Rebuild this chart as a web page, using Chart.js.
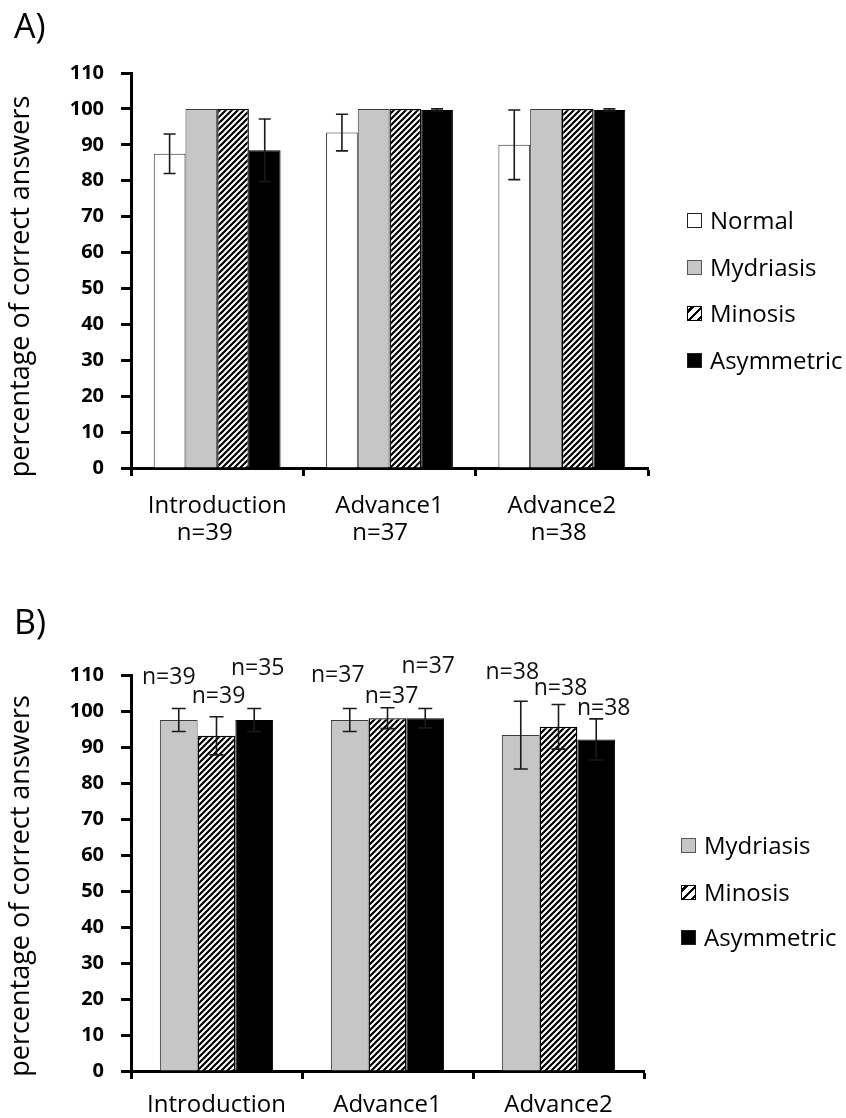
<!DOCTYPE html>
<html><head><meta charset="utf-8">
<script src="https://cdn.jsdelivr.net/npm/chart.js@4/dist/chart.umd.min.js"></script>
<style>
html,body{margin:0;padding:0;background:#fff;}
#wrap{position:relative;width:846px;height:1118px;overflow:hidden;font-family:'Open Sans',sans-serif;color:#000;background:#fff;}
canvas{position:absolute;left:0;}
.panel{position:absolute;font-size:34px;line-height:34px;left:14px;}
.leg{position:absolute;display:flex;align-items:center;height:30px;font-size:24px;line-height:30px;white-space:nowrap;}
.leg .box{width:15px;height:15px;box-sizing:border-box;flex:none;}
</style></head><body>
<div id="wrap">
<canvas id="cA" width="846" height="560" style="top:0"></canvas>
<canvas id="cB" width="846" height="558" style="top:560px"></canvas>
<div class="panel" style="top:8px">A)</div>
<div class="panel" style="top:604px">B)</div>
<div id="legA"></div><div id="legB"></div>
</div>
<script>
// ---------- data ----------
const categories = ['Introduction', 'Advance1', 'Advance2'];
const nA = ['n=39', 'n=37', 'n=38'];
const yTickValues = [0, 10, 20, 30, 40, 50, 60, 70, 80, 90, 100, 110];
const yTitle = 'percentage of correct answers';
const seriesA = ['Normal', 'Mydriasis', 'Minosis', 'Asymmetric'];
const seriesB = ['Mydriasis', 'Minosis', 'Asymmetric'];

const normalA = [87.5, 93.4, 90.0];
const normalErrA = [5.5, 5.1, 9.7];
const mydriasisA = [100, 100, 100];
const minosisA = [100, 100, 100];
const asymmetricA = [88.5, 99.7, 99.7];
const asymmetricErrA = [8.7, 0.3, 0.3];

const mydriasisB = [97.5, 97.5, 93.3];
const mydriasisErrB = [3.2, 3.2, 9.4];
const minosisB = [93.1, 98.0, 95.6];
const minosisErrB = [5.3, 2.9, 6.2];
const asymmetricB = [97.5, 98.0, 92.1];
const asymmetricErrB = [3.2, 2.7, 5.7];
const nMydriasisB = ['n=39', 'n=37', 'n=38'];
const nMinosisB = ['n=39', 'n=37', 'n=38'];
const nAsymmetricB = ['n=35', 'n=37', 'n=38'];

// ---------- styles / placement (not data) ----------
const FONT = "'Open Sans', sans-serif";
const nLabelPlacementB = {           // [y in axis units, dx in px] per dataset, per category
  yv: [[109.2, 110.0, 110.6], [104.0, 104.0, 106.4], [111.9, 112.3, 100.8]],
  dx: [[-10, -12, -8.5], [2, 4, 2], [3.5, 3, 7.5]]
};
const nShiftA = [4, 3, 1];            // trailing spaces to nudge second label line

function hatch() {
  const c = document.createElement('canvas');
  c.width = 6; c.height = 6;
  const g = c.getContext('2d');
  g.fillStyle = '#fff'; g.fillRect(0, 0, 6, 6);
  g.strokeStyle = '#000'; g.lineWidth = 2.2; g.lineCap = 'square';
  g.beginPath();
  g.moveTo(-3, 3); g.lineTo(3, -3);
  g.moveTo(0, 6); g.lineTo(6, 0);
  g.moveTo(3, 9); g.lineTo(9, 3);
  g.stroke();
  return g.createPattern(c, 'repeat');
}

const styles = {
  Normal: {backgroundColor: '#ffffff', borderColor: '#2b2b2b', borderWidth: 1},
  Mydriasis: {backgroundColor: '#c6c6c6', borderColor: '#3c3c3c', borderWidth: 1},
  Minosis: {backgroundColor: null, borderColor: '#000', borderWidth: 1.4},
  Asymmetric: {backgroundColor: '#000000', borderColor: '#000', borderWidth: 1}
};

const errorBars = {
  id: 'errorBars',
  afterDatasetsDraw(chart, args, opts) {
    const ctx = chart.ctx, y = chart.scales.y;
    chart.data.datasets.forEach((ds, i) => {
      if (!ds.errors) return;
      const meta = chart.getDatasetMeta(i);
      meta.data.forEach((bar, j) => {
        const e = ds.errors[j];
        if (!e) return;
        const v = ds.data[j];
        const x = bar.x, yt = y.getPixelForValue(v + e), yb = y.getPixelForValue(v - e);
        const h = opts.cap / 2;
        ctx.save();
        ctx.strokeStyle = '#1a1a1a'; ctx.lineWidth = 1.6;
        ctx.beginPath();
        ctx.moveTo(x, yt); ctx.lineTo(x, yb);
        ctx.moveTo(x - h, yt); ctx.lineTo(x + h, yt);
        ctx.moveTo(x - h, yb); ctx.lineTo(x + h, yb);
        ctx.stroke();
        ctx.restore();
      });
    });
  }
};

const nLabels = {
  id: 'nLabels',
  afterDatasetsDraw(chart, args, opts) {
    if (!opts.placement) return;
    const ctx = chart.ctx, y = chart.scales.y;
    ctx.save();
    ctx.fillStyle = '#111';
    ctx.font = '23px ' + FONT;
    ctx.textAlign = 'center';
    ctx.textBaseline = 'middle';
    chart.data.datasets.forEach((ds, i) => {
      if (!ds.nLabels) return;
      const meta = chart.getDatasetMeta(i);
      meta.data.forEach((bar, j) => {
        ctx.fillText(ds.nLabels[j], bar.x + opts.placement.dx[i][j], y.getPixelForValue(opts.placement.yv[i][j]));
      });
    });
    ctx.restore();
  }
};

// axis title drawn rotated, centred a little below the plot centre (as in the reference)
const yAxisTitle = {
  id: 'yAxisTitle',
  afterDraw(chart, args, opts) {
    const ctx = chart.ctx, a = chart.chartArea;
    ctx.save();
    ctx.translate(opts.x, (a.top + a.bottom) / 2 + opts.dy);
    ctx.rotate(-Math.PI / 2);
    ctx.fillStyle = '#000';
    ctx.font = '27px ' + FONT;
    ctx.textAlign = 'center';
    ctx.textBaseline = 'middle';
    ctx.fillText(opts.text, 0, 0);
    ctx.restore();
  }
};

function makeChart(id, datasets, cfg) {
  return new Chart(document.getElementById(id), {
    type: 'bar',
    data: {labels: categories, datasets},
    plugins: [errorBars, nLabels, yAxisTitle],
    options: {
      responsive: false, animation: false, devicePixelRatio: 1, events: [],
      layout: {padding: cfg.padding},
      datasets: {bar: {barPercentage: 1, categoryPercentage: cfg.catPct, borderSkipped: 'start'}},
      plugins: {
        legend: {display: false}, tooltip: {enabled: false},
        errorBars: {cap: cfg.cap},
        nLabels: {placement: cfg.placement},
        yAxisTitle: {text: yTitle, x: 21, dy: cfg.titleDy}
      },
      scales: {
        x: {
          afterFit(s) { s.height = cfg.xHeight; },
          border: {display: true, color: '#000', width: 3},
          grid: {display: true, drawOnChartArea: false, drawTicks: true, tickLength: 8, tickWidth: 3, tickColor: '#000', color: '#000', offset: true},
          ticks: {padding: cfg.xPad, color: '#000', maxRotation: 0, autoSkip: false,
                  font: {family: FONT, size: 24, lineHeight: 1.12},
                  callback: cfg.xLabel}
        },
        y: {
          min: 0, max: 110,
          afterBuildTicks(s) { s.ticks = yTickValues.map(v => ({value: v})); },
          afterFit(s) { s.width = 131; },
          border: {display: true, color: '#000', width: 3},
          grid: {display: true, drawOnChartArea: false, drawTicks: true, tickLength: 10, tickWidth: 3, tickColor: '#000', color: '#000'},
          ticks: {padding: 17, color: '#000', font: {family: FONT, size: 20, weight: 'bold'}},
          title: {display: false}
        }
      }
    }
  });
}

function buildLegend(elId, names, left, centers) {
  const el = document.getElementById(elId);
  names.forEach((n, i) => {
    const row = document.createElement('div');
    row.className = 'leg';
    row.style.left = left + 'px';
    row.style.top = (centers[i] - 15) + 'px';
    const b = document.createElement('div');
    b.className = 'box';
    const st = styles[n];
    if (n === 'Minosis') {
      b.style.border = '1.5px solid #000';
      b.style.background = 'repeating-linear-gradient(135deg, #fff 0 2px, #000 2px 4.5px, #fff 4.5px 6.5px)';
    } else {
      b.style.background = st.backgroundColor;
      b.style.border = '1px solid ' + (n === 'Mydriasis' ? '#555' : '#222');
    }
    const t = document.createElement('span');
    t.textContent = n;
    t.style.marginLeft = '8px';
    row.appendChild(b); row.appendChild(t);
    el.appendChild(row);
  });
}

function draw() {
  const hp = hatch();
  const ds = (name, data, err, nl) => Object.assign({label: name, data, errors: err, nLabels: nl},
    styles[name], name === 'Minosis' ? {backgroundColor: hp} : {});

  makeChart('cA', [
    ds('Normal', normalA, normalErrA),
    ds('Mydriasis', mydriasisA, null),
    ds('Minosis', minosisA, null),
    ds('Asymmetric', asymmetricA, asymmetricErrA)
  ], {
    padding: {top: 73, right: 198, bottom: 0, left: 0},
    xHeight: 92, xPad: 17, catPct: 0.736, cap: 12, titleDy: 16,
    xLabel: (v, i) => [categories[i], nA[i] + ' '.repeat(nShiftA[i])]
  });

  makeChart('cB', [
    ds('Mydriasis', mydriasisB, mydriasisErrB, nMydriasisB),
    ds('Minosis', minosisB, minosisErrB, nMinosisB),
    ds('Asymmetric', asymmetricB, asymmetricErrB, nAsymmetricB)
  ], {
    padding: {top: 115, right: 202, bottom: 0, left: 0},
    xHeight: 47, xPad: 13, catPct: 0.662, cap: 14, titleDy: 13,
    placement: nLabelPlacementB,
    xLabel: (v, i) => categories[i]
  });

  buildLegend('legA', seriesA, 687, [220, 267, 313, 360]);
  buildLegend('legB', seriesB, 681, [845, 892, 937]);
}

Promise.all([
  document.fonts.load("24px 'Open Sans'"),
  document.fonts.load("bold 20px 'Open Sans'")
]).then(draw, draw);
</script>
</body></html>
